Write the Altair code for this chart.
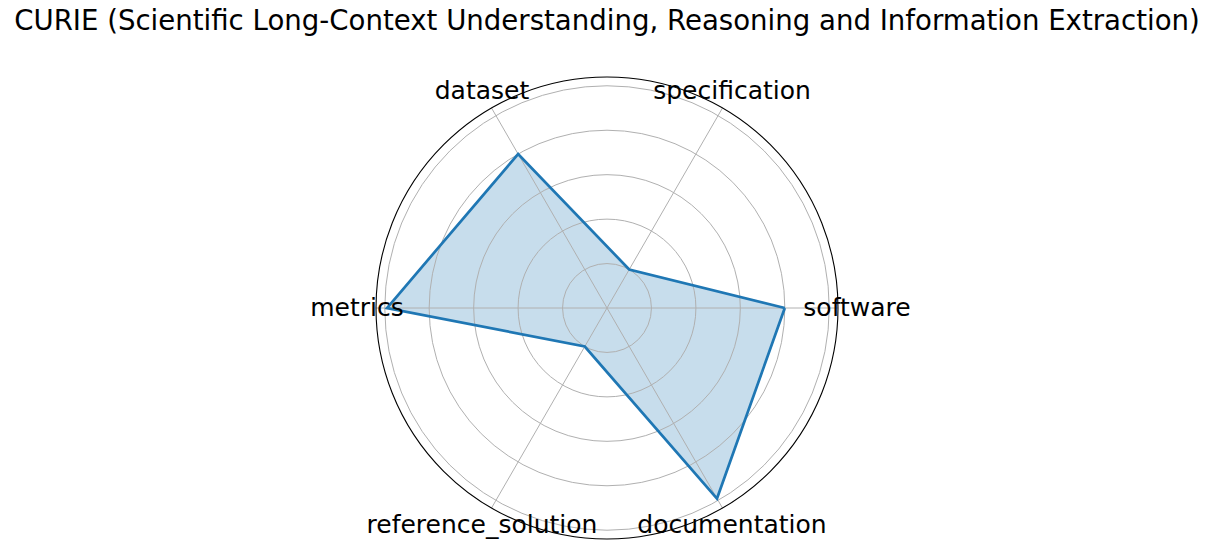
import math
import altair as alt
import pandas as pd

# ---- data ----
categories = ["software", "specification", "dataset", "metrics", "reference_solution", "documentation"]
values = [0.80, 0.20, 0.80, 0.99, 0.20, 0.99]
ring_levels = [0.2, 0.4, 0.6, 0.8, 1.0]
title_text = "CURIE (Scientific Long-Context Understanding, Reasoning and Information Extraction)"

R_MAX = max(values) * 1.05  # radial axis limit
PLOT = 462                  # plot-area side in px
LABEL_R = R_MAX * 250 / 231  # label radius (data units)

n = len(categories)
pts = pd.DataFrame({
    "cat": categories + [categories[0]],
    "v": values + [values[0]],
    "idx": list(range(n)) + [n],
})
cats = pd.DataFrame({"cat": categories, "idx": list(range(n))})
rings = pd.DataFrame({"r": ring_levels})
outer = pd.DataFrame({"r": [R_MAX]})

xs = alt.Scale(domain=[-R_MAX, R_MAX], nice=False, zero=False)
ys = alt.Scale(domain=[-R_MAX, R_MAX], nice=False, zero=False)
rs = alt.Scale(type="linear", domain=[0, R_MAX], range=[0, PLOT / 2], zero=True, nice=False)

ang = f"datum.idx * 2 * PI / {n}"

poly_base = alt.Chart(pts).transform_calculate(
    x=f"datum.v * cos({ang})", y=f"datum.v * sin({ang})"
)

fill = poly_base.mark_line(fill="#1f77b4", fillOpacity=0.25, strokeWidth=0, strokeOpacity=0).encode(
    x=alt.X("x:Q", scale=xs, axis=None),
    y=alt.Y("y:Q", scale=ys, axis=None),
    order="idx:Q",
)

line = poly_base.mark_line(color="#1f77b4", strokeWidth=2.7, strokeJoin="miter").encode(
    x=alt.X("x:Q", scale=xs, axis=None),
    y=alt.Y("y:Q", scale=ys, axis=None),
    order="idx:Q",
)

grid = alt.Chart(rings).mark_arc(
    filled=False, stroke="#b0b0b0", strokeWidth=1, theta=0, theta2=2 * math.pi
).encode(radius=alt.Radius("r:Q", scale=rs, stack=False))

spine = alt.Chart(outer).mark_arc(
    filled=False, stroke="black", strokeWidth=1.1, theta=0, theta2=2 * math.pi
).encode(radius=alt.Radius("r:Q", scale=rs, stack=False))

spokes = alt.Chart(cats).transform_calculate(
    zero="0",
    ex=f"{R_MAX} * cos({ang})",
    ey=f"{R_MAX} * sin({ang})",
).mark_rule(color="#b0b0b0", strokeWidth=1).encode(
    x=alt.X("zero:Q", scale=xs, axis=None),
    x2="ex:Q",
    y=alt.Y("zero:Q", scale=ys, axis=None),
    y2="ey:Q",
)

labels = alt.Chart(cats).transform_calculate(
    lx=f"{LABEL_R} * cos({ang})",
    ly=f"{LABEL_R} * sin({ang})",
).mark_text(font="DejaVu Sans", fontSize=25, color="black", align="center", baseline="middle").encode(
    x=alt.X("lx:Q", scale=xs, axis=None),
    y=alt.Y("ly:Q", scale=ys, axis=None),
    text="cat:N",
)

chart = alt.layer(fill, grid, spokes, line, spine, labels).properties(
    width=PLOT,
    height=PLOT,
    title=alt.Title(
        title_text, fontSize=27.6, font="DejaVu Sans", fontWeight="normal",
        color="black", anchor="middle", offset=17, baseline="alphabetic",
    ),
    autosize=alt.AutoSizeParams(type="none"),
    padding={"left": 376, "top": 77, "right": 374, "bottom": 10},
    background="white",
).configure_view(strokeWidth=0, stroke="transparent")

chart.save("out.html", embed_options={"renderer": "svg", "actions": False})
